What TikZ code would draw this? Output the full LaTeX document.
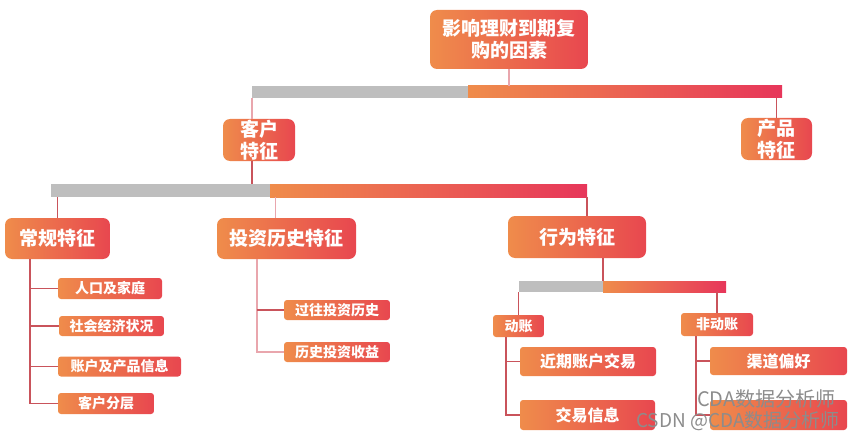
\documentclass[tikz,border=0pt]{standalone}
\usepackage{fontspec}
\setmainfont{Noto Sans CJK SC}
\usepackage{tikz}

\definecolor{boxorange}{HTML}{EF8C4B}
\definecolor{boxred}{HTML}{E8474F}
\definecolor{barred}{HTML}{E7365A}
\definecolor{bargray}{HTML}{BEBEBE}
\definecolor{linkdark}{HTML}{C9535B}
\definecolor{linklight}{HTML}{E9A6AD}
\definecolor{wmgray}{HTML}{8C8C8C}

\begin{document}
\begin{tikzpicture}[
            x=1pt, y=-1pt,
            every node/.style={text=white, inner sep=0pt, align=center},
            box/.style={rounded corners=4pt, left color=boxorange, right color=boxred,
                        font=\fontsize{19}{22}\selectfont\bfseries},
            bigbox/.style={box, rounded corners=7pt},
            leaf/.style={box, rounded corners=3pt, font=\fontsize{14}{16}\selectfont\bfseries},
            midleaf/.style={box, rounded corners=3pt, font=\fontsize{16}{18}\selectfont\bfseries},
            graybar/.style={fill=bargray},
            redbar/.style={left color=boxorange, right color=barred},
            link/.style={linkdark, line width=1.5pt},
            lightlink/.style={linklight, line width=1.5pt},
            watermark/.style={text=wmgray, anchor=west}
        ]
            \useasboundingbox (0,0) rectangle (864,441);

            % Main boxes
            \node[bigbox, minimum width=158pt, minimum height=59pt] (root) at (509,39.5) {影响理财到期复\\购的因素};
            \node[bigbox, minimum width=72pt, minimum height=42pt] (cust) at (259,140) {客户\\特征};
            \node[bigbox, minimum width=71pt, minimum height=42pt] (prod) at (776.5,139) {产品\\特征};
            \node[bigbox, minimum width=105pt, minimum height=41pt] (gen) at (57.5,238.5) {常规特征};
            \node[bigbox, minimum width=139pt, minimum height=41pt] (hist) at (286.5,238.5) {投资历史特征};
            \node[bigbox, minimum width=138pt, minimum height=42pt] (behav) at (577,237) {行为特征};

            % Bars
            \node[graybar, minimum width=216pt, minimum height=12pt] (b1l) at (360,92) {};
            \node[redbar, minimum width=314pt, minimum height=12pt] (b1r) at (625,92) {};
            \node[graybar, minimum width=219pt, minimum height=13pt] (b2l) at (160.5,190.5) {};
            \node[redbar, minimum width=317pt, minimum height=13pt] (b2r) at (428.5,190.5) {};
            \node[graybar, minimum width=84pt, minimum height=11pt] (b3l) at (561,286.5) {};
            \node[redbar, minimum width=123pt, minimum height=11pt] (b3r) at (664.5,286.5) {};

            % Leaves
            \node[leaf, minimum width=104pt, minimum height=21pt] (c1) at (110,288.5) {人口及家庭};
            \node[leaf, minimum width=105pt, minimum height=20pt] (c2) at (111.5,326) {社会经济状况};
            \node[leaf, minimum width=123pt, minimum height=20pt] (c3) at (119.5,366.5) {账户及产品信息};
            \node[leaf, minimum width=96pt, minimum height=21pt] (c4) at (106,403.5) {客户分层};
            \node[leaf, minimum width=106pt, minimum height=20pt] (h1) at (337,310) {过往投资历史};
            \node[leaf, minimum width=106pt, minimum height=20pt] (h2) at (337,352) {历史投资收益};
            \node[leaf, minimum width=51pt, minimum height=22pt] (act) at (518.5,326) {动账};
            \node[leaf, minimum width=72pt, minimum height=23pt] (nonact) at (717,324.5) {非动账};
            \node[midleaf, minimum width=136pt, minimum height=29pt] (a1) at (588,361.5) {近期账户交易};
            \node[midleaf, minimum width=135pt, minimum height=30pt] (a2) at (587.5,415) {交易信息};
            \node[midleaf, minimum width=137pt, minimum height=28pt] (n1) at (778.5,361) {渠道偏好};
            \node[midleaf, minimum width=137pt, minimum height=30pt] (n2) at (778.5,415) {};

            % Edges
            \draw[lightlink] (root.south) -- (root.south |- b1r.north);
            \draw[lightlink] (b1l.south west) -- (b1l.south west |- cust.north);
            \draw[link] (b1r.south -| prod.north) -- (prod.north);
            \draw[link] (cust.south -| b1l.west) -- (b2l.north -| b1l.west);
            \draw[link] (b2l.south -| gen.north) -- (gen.north);
            \draw[lightlink] (b2l.south -| hist.north) ++(-11,0) -- ([xshift=-11pt]hist.north);
            \draw[link] (b2r.south east) -- (b2r.south east |- behav.north);
            \draw[link] (behav.south -| b3l.east) -- (b3l.north east);
            \draw[link] (b3l.south -| act.north) -- (act.north);
            \draw[link] (b3r.south -| nonact.north) -- (nonact.north);

            \coordinate (gv) at ([xshift=25pt]gen.south west);
            \coordinate (hv) at ([xshift=40pt]hist.south west);
            \coordinate (av) at ([xshift=13pt]act.south west);
            \coordinate (nv) at ([xshift=15pt]nonact.south west);

            \draw[link] (gv) |- (c4.west);
            \foreach \n in {c1,c2,c3}
                \draw[link] (gv |- \n.west) -- (\n.west);
            \draw[lightlink] (hv) |- (h2.west);
            \draw[link] (hv |- h1.west) -- (h1.west);
            \draw[link] (av) |- (a2.west);
            \draw[link] (av |- a1.west) -- (a1.west);
            \draw[link] (nv) |- (n2.west);
            \draw[link] (nv |- n1.west) -- (n1.west);

            % Watermark
            \node[watermark, font=\fontsize{20}{21}\selectfont] (wm1) at (697,399) {CDA数据分析师};
            \node[watermark, font=\fontsize{19}{20}\selectfont] (wm2) at (636,421) {CSDN @CDA数据分析师};
        \end{tikzpicture}
\end{document}
